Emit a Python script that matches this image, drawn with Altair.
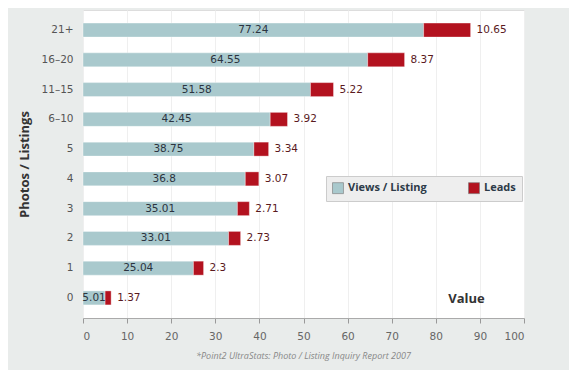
import altair as alt
import pandas as pd

categories = ["21+", "16–20", "11–15", "6–10", "5", "4", "3", "2", "1", "0"]
views = [77.24, 64.55, 51.58, 42.45, 38.75, 36.8, 35.01, 33.01, 25.04, 5.01]
leads = [10.65, 8.37, 5.22, 3.92, 3.34, 3.07, 2.71, 2.73, 2.3, 1.37]
series_names = ["Views / Listing", "Leads"]
series_colors = ["#a9c9cd", "#b3121f"]
tick_values = list(range(0, 101, 5))

rows = []
for c, v, l in zip(categories, views, leads):
    rows.append({"cat": c, "series": series_names[0], "value": v, "ord": 0})
    rows.append({"cat": c, "series": series_names[1], "value": l, "ord": 1})
long_df = pd.DataFrame(rows)
wide_df = pd.DataFrame({"cat": categories, "views": views, "leads": leads})

FONT = "DejaVu Sans"

y_enc = alt.Y(
    "cat:N",
    sort=categories,
    scale=alt.Scale(paddingInner=0.53, paddingOuter=0.44),
    axis=alt.Axis(
        title="Photos / Listings",
        titleFont="Open Sans",
        titleFontSize=13,
        titleFontWeight="bold",
        titleColor="#333333",
        titlePadding=10,
        labelFont=FONT,
        labelFontSize=10.5,
        labelColor="#555555",
        labelPadding=10,
        ticks=False,
        domain=False,
        grid=False,
    ),
)

x_axis = alt.Axis(
    title="Value",
    titleFont="Open Sans",
    titleFontSize=13,
    titleFontWeight="bold",
    titleColor="#333333",
    titleX=383,
    titleY=-20,
    titleAlign="center",
    titleBaseline="middle",
    values=tick_values,
    labelExpr="datum.value % 10 == 0 ? datum.label : ''",
    labelFont=FONT,
    labelFontSize=10.5,
    labelColor="#666666",
    labelPadding=8,
    tickSize=5,
    tickColor="#999999",
    domainColor="#aaaaaa",
    grid=True,
    gridColor="#efefef",
)

bars = alt.Chart(long_df).mark_bar(stroke="#ffffff", strokeWidth=0.6, strokeOpacity=0.6).encode(
    x=alt.X("value:Q", stack="zero", scale=alt.Scale(domain=[0, 100], nice=False), axis=x_axis),
    y=y_enc,
    color=alt.Color(
        "series:N",
        scale=alt.Scale(domain=series_names, range=series_colors),
        legend=alt.Legend(
            title=None,
            orient="none",
            legendX=243,
            legendY=166,
            direction="horizontal",
            symbolType="square",
            symbolSize=120,
            symbolStrokeColor="#777777",
            symbolStrokeWidth=0.6,
            labelFont="Open Sans",
            labelFontSize=11,
            labelFontWeight="bold",
            labelColor="#2d3a48",
            columnPadding=40,
            padding=6,
            fillColor="#eeeeee",
            strokeColor="#cccccc",
        ),
    ),
    order=alt.Order("ord:Q"),
)

view_labels = alt.Chart(wide_df).transform_calculate(
    mid="datum.views / 2"
).mark_text(font=FONT, fontSize=10.5, color="#2b3440", align="center", baseline="middle").encode(
    x="mid:Q",
    y=alt.Y("cat:N", sort=categories),
    text=alt.Text("views:Q"),
)

lead_labels = alt.Chart(wide_df).transform_calculate(
    end="datum.views + datum.leads"
).mark_text(font=FONT, fontSize=10.5, color="#5a1a1e", align="left", baseline="middle", dx=6).encode(
    x="end:Q",
    y=alt.Y("cat:N", sort=categories),
    text=alt.Text("leads:Q"),
)

chart = alt.layer(bars, view_labels, lead_labels).properties(
    width=441,
    height=308,
    autosize=alt.AutoSizeParams(type="none"),
    padding={"left": 75, "top": 2, "right": 45, "bottom": 52},
    background="#e9eceb",
    title=alt.TitleParams(
        "*Point2 UltraStats: Photo / Listing Inquiry Report 2007",
        orient="bottom",
        anchor="middle",
        font="Open Sans",
        fontSize=9,
        fontStyle="italic",
        fontWeight="normal",
        color="#888888",
        offset=10,
    ),
).configure_view(fill="#ffffff", stroke="#dddddd")

chart.save("out.html", embed_options={"renderer": "svg", "actions": False})
